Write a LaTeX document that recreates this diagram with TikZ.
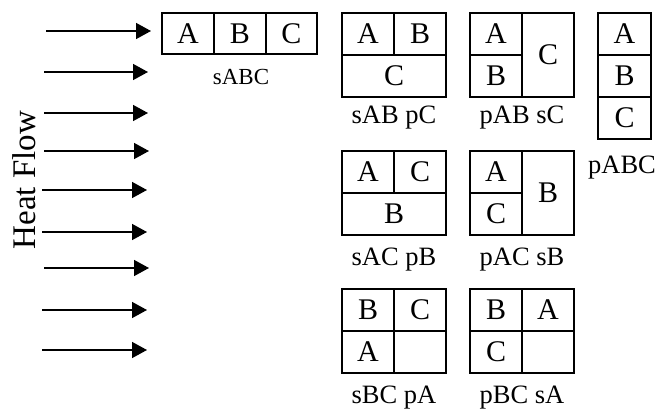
\documentclass[tikz,border=0pt]{standalone}
\usepackage{fontspec}
\setmainfont{Liberation Serif}
\usetikzlibrary{arrows.meta}
\begin{document}
\begin{tikzpicture}[x=1pt,y=-1pt,
  cellbox/.style={draw,line width=1.6pt,inner sep=0pt},
  divider/.style={line width=1.4pt},
  letter/.style={font=\fontsize{30}{32}\selectfont,inner sep=0pt},
  caption/.style={font=\fontsize{26.5}{28}\selectfont,inner sep=0pt,anchor=base},
  flow/.style={line width=1.5pt,-{Triangle[length=15pt,width=16pt]}}
]
\useasboundingbox (0,0) rectangle (663,409);

% heat flow arrows
\foreach \i/\y/\xa/\xb in {1/31/46/151,2/72/44/148,3/113/44/148,4/151/44/149,5/190/42/147,6/232/42/147,7/268/44/149,8/310/42/147,9/350/42/147}{
  \coordinate (s\i) at (\xa,\y);
  \coordinate (e\i) at (\xb,\y);
  \draw[flow] (s\i) -- (e\i);
}
\node[rotate=90,font=\fontsize{33}{35}\selectfont,inner sep=0pt] (hf) at (24,180) {Heat Flow};

% sABC
\node[cellbox,minimum width=155pt,minimum height=41pt] (b1) at (239.5,33.5) {};
\draw[divider] (214,13) -- (214,54) (266,13) -- (266,54);
\node[letter] (b1a) at (188,33.5) {A};
\node[letter] (b1b) at (240,33.5) {B};
\node[letter] (b1c) at (291.5,33.5) {C};
\node[caption,font=\fontsize{23}{25}\selectfont] (l1) at (241,85) {sABC};

% sAB pC
\node[cellbox,minimum width=104pt,minimum height=84pt] (b2) at (394,55) {};
\draw[divider] (342,55) -- (446,55) (394,13) -- (394,55);
\node[letter] (b2a) at (368,34) {A};
\node[letter] (b2b) at (420,34) {B};
\node[letter] (b2c) at (394,76) {C};
\node[caption] (l2) at (394,124) {sAB pC};

% pAB sC
\node[cellbox,minimum width=104pt,minimum height=84pt] (b3) at (522,55) {};
\draw[divider] (522,13) -- (522,97) (470,55) -- (522,55);
\node[letter] (b3a) at (496,34) {A};
\node[letter] (b3b) at (496,76) {B};
\node[letter] (b3c) at (548,55) {C};
\node[caption] (l3) at (522,124) {pAB sC};

% pABC
\node[cellbox,minimum width=53pt,minimum height=126pt] (b4) at (624.5,76) {};
\draw[divider] (598,55) -- (651,55) (598,97) -- (651,97);
\node[letter] (b4a) at (624.5,34) {A};
\node[letter] (b4b) at (624.5,76) {B};
\node[letter] (b4c) at (624.5,118) {C};
\node[caption] (l4) at (622,173) {pABC};

% sAC pB
\node[cellbox,minimum width=104pt,minimum height=84pt] (b5) at (394,193) {};
\draw[divider] (342,193) -- (446,193) (394,151) -- (394,193);
\node[letter] (b5a) at (368,172) {A};
\node[letter] (b5c) at (420,172) {C};
\node[letter] (b5b) at (394,214) {B};
\node[caption] (l5) at (394,265) {sAC pB};

% pAC sB
\node[cellbox,minimum width=104pt,minimum height=84pt] (b6) at (522,193) {};
\draw[divider] (522,151) -- (522,235) (470,193) -- (522,193);
\node[letter] (b6a) at (496,172) {A};
\node[letter] (b6c) at (496,214) {C};
\node[letter] (b6b) at (548,193) {B};
\node[caption] (l6) at (522,265) {pAC sB};

% sBC pA
\node[cellbox,minimum width=104pt,minimum height=84pt] (b7) at (394,331) {};
\draw[divider] (342,331) -- (446,331) (394,289) -- (394,373);
\node[letter] (b7b) at (368,310) {B};
\node[letter] (b7c) at (420,310) {C};
\node[letter] (b7a) at (368,352) {A};
\node[caption] (l7) at (394,403) {sBC pA};

% pBC sA
\node[cellbox,minimum width=104pt,minimum height=84pt] (b8) at (522,331) {};
\draw[divider] (470,331) -- (574,331) (522,289) -- (522,373);
\node[letter] (b8b) at (496,310) {B};
\node[letter] (b8a) at (548,310) {A};
\node[letter] (b8c) at (496,352) {C};
\node[caption] (l8) at (522,403) {pBC sA};
\end{tikzpicture}
\end{document}
